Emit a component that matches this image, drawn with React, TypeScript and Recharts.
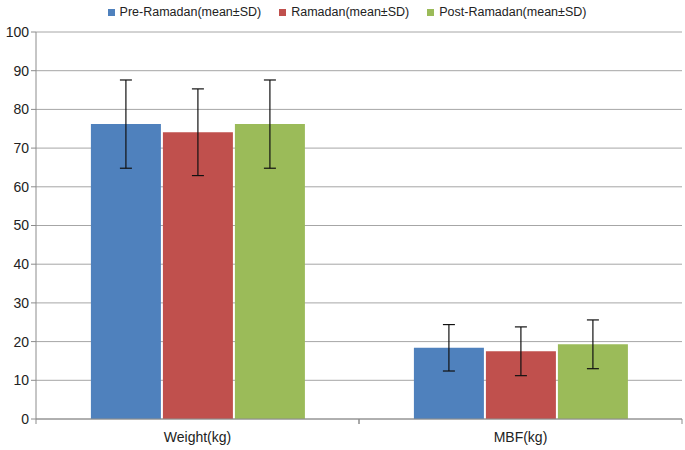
import {
  BarChart,
  Bar,
  XAxis,
  YAxis,
  CartesianGrid,
  Legend,
  ErrorBar,
} from "recharts";

const categories = ["Weight(kg)", "MBF(kg)"];
const preMean = [76.2, 18.4];
const preSD = [11.4, 6.0];
const ramMean = [74.1, 17.5];
const ramSD = [11.2, 6.3];
const postMean = [76.2, 19.3];
const postSD = [11.4, 6.3];
const yTicks = [0, 10, 20, 30, 40, 50, 60, 70, 80, 90, 100];

const series = [
  { key: "pre", name: "Pre-Ramadan(mean±SD)", color: "#4F81BD" },
  { key: "ram", name: "Ramadan(mean±SD)", color: "#C0504D" },
  { key: "post", name: "Post-Ramadan(mean±SD)", color: "#9BBB59" },
];

const data = categories.map((c, i) => ({
  name: c,
  pre: preMean[i],
  preErr: preSD[i],
  ram: ramMean[i],
  ramErr: ramSD[i],
  post: postMean[i],
  postErr: postSD[i],
}));

const font = "'Liberation Sans', Arial, sans-serif";
const axisColor = "#8C8C8C";

function XTick({ x, y, payload }: any) {
  const half = 323 / 2;
  return (
    <g>
      <line x1={x - half} y1={y - 8} x2={x - half} y2={y - 3} stroke={axisColor} />
      <line x1={x + half} y1={y - 8} x2={x + half} y2={y - 3} stroke={axisColor} />
      <text x={x} y={y + 15} textAnchor="middle" fill="#222" fontSize={14} fontFamily={font}>
        {payload.value}
      </text>
    </g>
  );
}

export default function App() {
  return (
    <div style={{ position: "absolute", left: 0, top: 0, background: "#fff" }}>
      <BarChart
        width={685}
        height={450}
        data={data}
        margin={{ top: 18, right: 3, left: 0, bottom: 0 }}
        barCategoryGap="17%"
        barGap={2}
      >
        <CartesianGrid vertical={false} stroke="#A6A6A6" />
        <XAxis
          dataKey="name"
          axisLine={{ stroke: axisColor }}
          tickLine={false}
          height={31}
          tick={<XTick />}
          interval={0}
        />
        <YAxis
          domain={[0, 100]}
          ticks={yTicks}
          width={36}
          axisLine={{ stroke: axisColor }}
          tickLine={{ stroke: axisColor }}
          tickSize={5}
          tick={{ fill: "#222", fontSize: 14, fontFamily: font }}
        />
        <Legend
          verticalAlign="top"
          wrapperStyle={{ top: 5 }}
          content={() => (
            <div
              style={{
                display: "flex",
                justifyContent: "center",
                gap: 18,
                fontFamily: font,
                fontSize: 12.5,
                color: "#222",
                paddingLeft: 12,
              }}
            >
              {series.map((s) => (
                <span key={s.key} style={{ display: "flex", alignItems: "center", gap: 5 }}>
                  <span style={{ width: 7, height: 7, background: s.color, display: "inline-block" }} />
                  {s.name}
                </span>
              ))}
            </div>
          )}
        />
        {series.map((s) => (
          <Bar key={s.key} dataKey={s.key} name={s.name} fill={s.color} isAnimationActive={false}>
            <ErrorBar dataKey={s.key + "Err"} stroke="#111" strokeWidth={1.2} width={6} />
          </Bar>
        ))}
      </BarChart>
    </div>
  );
}
